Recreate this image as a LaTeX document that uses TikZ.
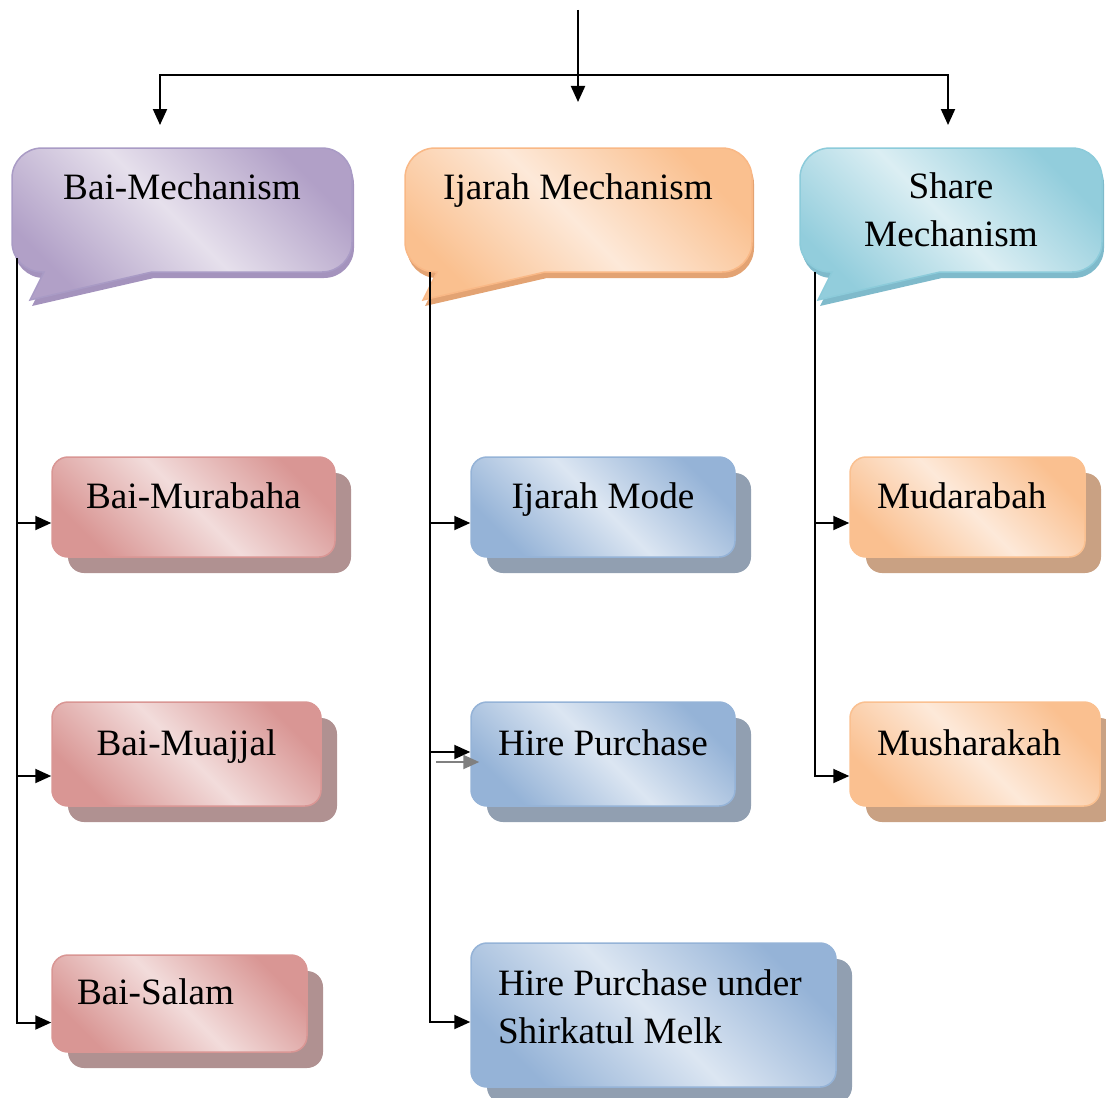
\documentclass[tikz,border=0pt]{standalone}
\usepackage{fontspec}
\setmainfont{Liberation Serif}
\usetikzlibrary{positioning,arrows.meta,shadows}

% colour sets: dk = gradient ends, lt = gradient middle, ln = border, sh = shadow
\definecolor{purpdk}{HTML}{B1A0C7}
\definecolor{purplt}{HTML}{E6E0EC}
\definecolor{purpln}{HTML}{A99BC5}
\definecolor{purpsh}{HTML}{A493BD}
\definecolor{orngdk}{HTML}{FAC08F}
\definecolor{ornglt}{HTML}{FDE9D9}
\definecolor{orngln}{HTML}{F9B886}
\definecolor{orngsh}{HTML}{E3A373}
\definecolor{cyandk}{HTML}{92CDDC}
\definecolor{cyanlt}{HTML}{DBEEF3}
\definecolor{cyanln}{HTML}{8CCBDA}
\definecolor{cyansh}{HTML}{7FBACB}
\definecolor{pinkdk}{HTML}{D99694}
\definecolor{pinklt}{HTML}{F2DCDB}
\definecolor{pinkln}{HTML}{D99694}
\definecolor{pinksh}{HTML}{B09191}
\definecolor{bluedk}{HTML}{95B3D7}
\definecolor{bluelt}{HTML}{DCE6F2}
\definecolor{blueln}{HTML}{95B3D7}
\definecolor{bluesh}{HTML}{919FB1}
\definecolor{pchdk}{HTML}{FAC090}
\definecolor{pchlt}{HTML}{FDE9D9}
\definecolor{pchln}{HTML}{FAC090}
\definecolor{pchsh}{HTML}{C9A183}

\newcommand{\boxfont}{\fontsize{18.6}{24}\selectfont}
% speech bubble: left, top, right, bottom
\newcommand{\bubblepath}[4]{(#1+140,#4) -- (#3-30,#4) arc (90:0:30) -- (#3,#2+30) arc (0:-90:30)
  -- (#1+30,#2) arc (-90:-180:30) -- (#1,#4-30) arc (180:90:30) -- (#1+32,#4) -- (#1+18,#4+28) -- cycle}

\begin{document}
\begin{tikzpicture}[x=0.5pt,y=-0.5pt,
  link/.style={line width=1pt,-{Triangle[length=8pt,width=7pt]}},
  bubble/.style={left color=#1dk,right color=#1dk,middle color=#1lt,shading angle=-45,
    draw=#1ln,line width=0.75pt},
  calltext/.style={font=\boxfont,inner sep=0pt},
  subbox/.style={rectangle,rounded corners=8pt,draw=#1ln,line width=0.75pt,
    left color=#1dk,right color=#1dk,middle color=#1lt,shading angle=-45,
    drop shadow={shadow xshift=8pt,shadow yshift=-8pt,fill=#1sh,opacity=1},
    font=\boxfont,inner sep=0pt,text height=0.7em,text depth=0.6em}]
\useasboundingbox (0,0) rectangle (1106,1097);

% sub boxes
\node[subbox=pink,minimum width=141.5pt,minimum height=50pt] (mur) at (193.5,507) {Bai-Murabaha};
\node[subbox=pink,minimum width=134.5pt,minimum height=52pt] (muaj) at (186.5,754) {Bai-Muajjal};
\node[subbox=pink,minimum width=127.5pt,minimum height=48.5pt,inner xsep=12.5pt,
  text width=102.5pt,align=flush left] (sal) at (179.5,1003.5) {Bai-Salam};
\node[subbox=blue,minimum width=132pt,minimum height=50pt] (ijm) at (603,507) {Ijarah Mode};
\node[subbox=blue,minimum width=132pt,minimum height=52pt] (hp) at (603,754) {Hire Purchase};
\node[subbox=blue,minimum width=182.5pt,minimum height=72pt,inner xsep=13.5pt,
  text width=155.5pt,align=flush left,text height=,text depth=32pt] (hps) at (653.5,1015)
  {Hire Purchase under\\Shirkatul Melk};
\node[subbox=pch,minimum width=117.5pt,minimum height=50pt,inner xsep=13.5pt,
  text width=90.5pt,align=flush left] (mud) at (967.5,507) {Mudarabah};
\node[subbox=pch,minimum width=125pt,minimum height=52pt,inner xsep=13.5pt,
  text width=98pt,align=flush left] (mus) at (975,754) {Musharakah};

% speech bubbles
\fill[purpsh,shift={(2,6)}] \bubblepath{12}{148}{352}{272};
\path[bubble=purp] \bubblepath{12}{148}{352}{272};
\fill[orngsh,shift={(2,6)}] \bubblepath{405}{148}{752}{272};
\path[bubble=orng] \bubblepath{405}{148}{752}{272};
\fill[cyansh,shift={(2,6)}] \bubblepath{800}{148}{1102}{272};
\path[bubble=cyan] \bubblepath{800}{148}{1102}{272};
\node[calltext,anchor=base] (bai) at (182,199) {Bai-Mechanism};
\node[calltext,anchor=base] (ija) at (578,199) {Ijarah Mechanism};
\node[calltext,align=center] (sha) at (951,210) {Share\\Mechanism};

% entry points on the boxes
\foreach \n/\d in {mur/16,muaj/22,sal/19,ijm/16,hp/-2,hps/7,mud/16,mus/22}
  \coordinate (\n-in) at ([yshift=-\d*0.5pt]\n.west);

% feed from the top
\coordinate (top) at (578,10);
\coordinate (hub) at (578,75);
\coordinate (bai-in) at (160,125);
\coordinate (ija-in) at (578,102);
\coordinate (sha-in) at (948,125);
\draw[link] (top) -- (ija-in);
\draw[link] (hub) -| (bai-in);
\draw[link] (hub) -| (sha-in);

% trunks
\coordinate (bai-src) at (17,258);
\coordinate (ija-src) at (430,272);
\coordinate (sha-src) at (815,272);
\draw[link] (bai-src) |- (sal-in);
\draw[link] (bai-src |- mur-in) -- (mur-in);
\draw[link] (bai-src |- muaj-in) -- (muaj-in);
\draw[link] (ija-src) |- (hps-in);
\draw[link] (ija-src |- ijm-in) -- (ijm-in);
\draw[link] (ija-src |- hp-in) -- (hp-in);
\draw[link] (sha-src) |- (mus-in);
\draw[link] (sha-src |- mud-in) -- (mud-in);
\draw[link,gray] ([xshift=-17pt,yshift=-4pt]hp.west) -- ([xshift=4.5pt,yshift=-4pt]hp.west);
\end{tikzpicture}
\end{document}
